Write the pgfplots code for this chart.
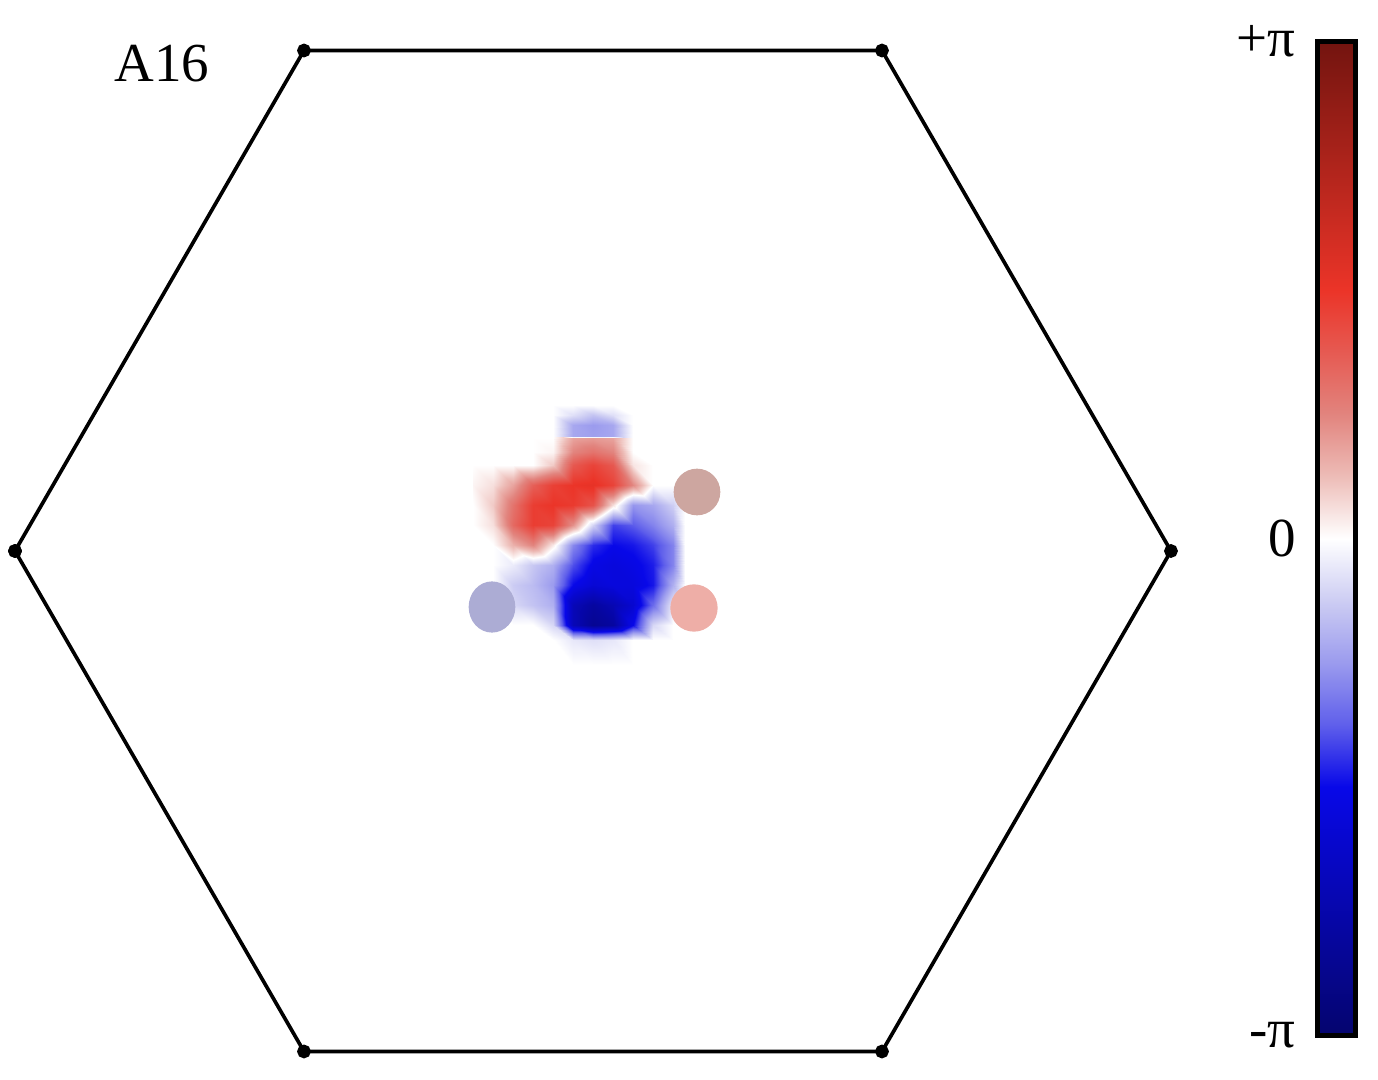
\documentclass[border=0pt]{standalone}
\usepackage{pgfplots}
\usepackage{pgfplotstable}
\pgfplotsset{compat=1.18}
\usepackage{fontspec}
\setmainfont{Liberation Serif}
\pgfplotsset{
  colormap={phase}{
    rgb255(0cm)=(5,5,110);
    rgb255(4cm)=(8,8,232);
    rgb255(5cm)=(95,95,235);
    rgb255(6cm)=(155,155,238);
    rgb255(7cm)=(205,205,243);
    rgb255(8cm)=(255,255,255);
    rgb255(9cm)=(237,188,183);
    rgb255(10cm)=(226,132,126);
    rgb255(11cm)=(230,90,82);
    rgb255(12cm)=(235,52,40);
    rgb255(16cm)=(115,20,15)
  }
}
\definecolor{satUR}{RGB}{205,166,160}
\definecolor{satLR}{RGB}{238,174,167}
\definecolor{satLL}{RGB}{172,172,212}
\pgfplotstableread{
x y p
473 -405 0
493 -405 0
513 -405 0
533 -405 0
553 -405 0
573 -405 0
593 -405 0
613 -405 0
633 -405 0
653 -405 0
673 -405 0
685 -405 0
473 -415 0
493 -415 0
513 -415 0
533 -415 0
553 -415 0
573 -415 -0.08
593 -415 -0.15
613 -415 -0.08
633 -415 0
653 -415 0
673 -415 0
685 -415 0
473 -425 0
493 -425 0
513 -425 0
533 -425 0
553 -425 0
573 -425 -0.22
593 -425 -0.25
613 -425 -0.22
633 -425 0
653 -425 0
673 -425 0
685 -425 0
473 -436 0
493 -436 0
513 -436 0
533 -436 0
553 -436 0
573 -436 -0.22
593 -436 -0.24
613 -436 -0.22
633 -436 0
653 -436 0
673 -436 0
685 -436 0
473 -438 0
493 -438 0
513 -438 0
533 -438 0
553 -438 0
573 -438 0.18
593 -438 0.2
613 -438 0.18
633 -438 0
653 -438 0
673 -438 0
685 -438 0
473 -452 0
493 -452 0
513 -452 0
533 -452 0
553 -452 0.02
573 -452 0.25
593 -452 0.3
613 -452 0.25
633 -452 0
653 -452 0
673 -452 0
685 -452 0
473 -465 0
493 -465 0
513 -465 0
533 -465 0
553 -465 0.1
573 -465 0.38
593 -465 0.45
613 -465 0.38
633 -465 0.05
653 -465 0
673 -465 0
685 -465 0
473 -485 0.02
493 -485 0.06
513 -485 0.18
533 -485 0.36
553 -485 0.46
573 -485 0.5
593 -485 0.52
613 -485 0.45
633 -485 0.24
653 -485 0
673 -485 0
685 -485 0
473 -505 0
493 -505 0.1
513 -505 0.3
533 -505 0.47
553 -505 0.5
573 -505 0.48
593 -505 0.4
613 -505 0.06
633 -505 -0.26
653 -505 -0.22
673 -505 -0.12
685 -505 0
473 -525 0
493 -525 0.06
513 -525 0.33
533 -525 0.47
553 -525 0.45
573 -525 0.22
593 -525 -0.11
613 -525 -0.42
633 -525 -0.38
653 -525 -0.3
673 -525 -0.2
685 -525 0
473 -545 0
493 -545 0
513 -545 0.15
533 -545 0.25
553 -545 0.04
573 -545 -0.29
593 -545 -0.45
613 -545 -0.5
633 -545 -0.48
653 -545 -0.42
673 -545 -0.3
685 -545 0
473 -565 0
493 -565 0
513 -565 -0.05
533 -565 -0.14
553 -565 -0.2
573 -565 -0.4
593 -565 -0.52
613 -565 -0.55
633 -565 -0.52
653 -565 -0.47
673 -565 -0.3
685 -565 0
473 -585 0
493 -585 0
513 -585 -0.13
533 -585 -0.17
553 -585 -0.25
573 -585 -0.5
593 -585 -0.58
613 -585 -0.55
633 -585 -0.55
653 -585 -0.48
673 -585 -0.2
685 -585 0
473 -605 0
493 -605 0
513 -605 -0.1
533 -605 -0.15
553 -605 -0.2
573 -605 -0.7
593 -605 -0.8
613 -605 -0.72
633 -605 -0.6
653 -605 -0.35
673 -605 -0.05
685 -605 0
473 -625 0
493 -625 0
513 -625 0
533 -625 0
553 -625 -0.1
573 -625 -0.7
593 -625 -0.85
613 -625 -0.8
633 -625 -0.5
653 -625 -0.1
673 -625 0
685 -625 0
473 -640 0
493 -640 0
513 -640 0
533 -640 0
553 -640 0
573 -640 -0.06
593 -640 -0.08
613 -640 -0.06
633 -640 0
653 -640 0
673 -640 0
685 -640 0
473 -665 0
493 -665 0
513 -665 0
533 -665 0
553 -665 0
573 -665 0
593 -665 0
613 -665 0
633 -665 0
653 -665 0
673 -665 0
685 -665 0
}\blobdata
\begin{document}
\begin{tikzpicture}
\path[use as bounding box] (0,0) rectangle (413.4pt,324pt);
\begin{axis}[
  at={(4.5pt,8.55pt)}, anchor=south west,
  scale only axis, width=346.8pt, height=300.3pt,
  view={0}{90},
  xmin=15, xmax=1171, ymin=-1051.5, ymax=-50.5, zmin=-1, zmax=1,
  hide axis, clip=false,
  colormap name=phase,
  point meta min=-1, point meta max=1,
  colorbar,
  colorbar style={
    at={(parent axis.north east)}, anchor=north west,
    xshift=35.4pt, yshift=2.7pt,
    width=11.4pt, height=298.2pt,
    ytick={-1,0,1}, yticklabels={-π,0,+π},
    yticklabel pos=left,
    major tick length=0pt,
    tick style={draw=none},
    axis line style={line width=1.4pt, black},
    every outer x axis line/.append style={line width=1.4pt},
    every outer y axis line/.append style={line width=1.4pt},
    yticklabel style={font=\fontsize{16.5}{18}\selectfont, xshift=-3pt},
  },
]
\addplot3[surf, shader=interp, mesh/cols=12, point meta=explicit]
  table[x=x, y=y, z expr=0, meta=p] {\blobdata};
\addplot3[only marks, mark=*, mark size=6.8pt, mark options={draw=satUR, fill=satUR}]
  coordinates {(697,-492,0)};
\addplot3[only marks, mark=*, mark size=6.9pt, mark options={draw=satLR, fill=satLR}]
  coordinates {(694,-608,0)};
\addplot3[only marks, mark=*, mark size=6.8pt, mark options={draw=satLL, fill=satLL, yscale=1.1}]
  coordinates {(492,-607,0)};
\addplot3[black, line width=1.1pt, mark=*, mark size=1.5pt, mark options={fill=black}]
  coordinates {(15,-551,0) (304,-50.5,0) (882,-50.5,0) (1171,-551,0) (882,-1051.5,0) (304,-1051.5,0) (15,-551,0)};
\node[anchor=west, inner sep=0pt, font=\fontsize{16.5}{18}\selectfont] at (axis cs:114,-64,0) {A16};
\end{axis}
\end{tikzpicture}
\end{document}
